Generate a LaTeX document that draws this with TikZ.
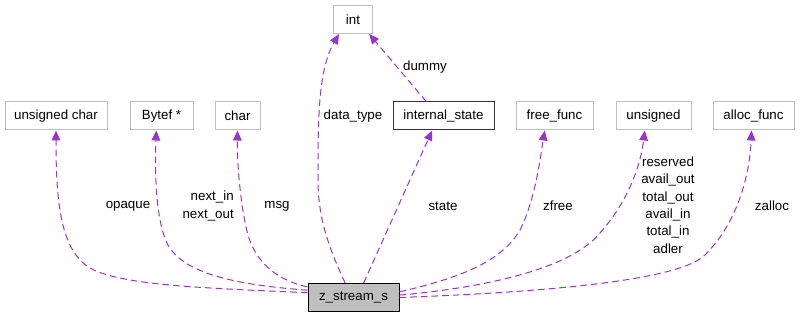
\documentclass[tikz,border=0pt]{standalone}
\usepackage{fontspec}
\setmainfont{Liberation Sans}
\usetikzlibrary{arrows.meta}

\definecolor{edgepurple}{HTML}{9A32CD}
\definecolor{boxgray}{HTML}{BFBFBF}

\begin{document}
\begin{tikzpicture}[x=0.75pt, y=-0.75pt,
      every node/.style = {font=\fontsize{10}{13}\selectfont},
      cls/.style = {shape=rectangle, draw=boxgray, line width=0.75pt,
        fill=white, minimum height=21pt, inner xsep=2pt},
      lbl/.style = {inner sep=0pt, align=center},
      mem/.style = {draw=edgepurple, dash pattern=on 5pt off 3pt,
        line width=0.75pt,
        -{Triangle[length=7.5pt,width=6.5pt,fill=edgepurple]}}]
      \useasboundingbox (0,0) rectangle (800,317);
      % member types
      \node[cls, minimum width=29.25pt] (int) at (353,19.5) {int};
      \node[cls, minimum width=76.5pt] (uchar) at (56,116) {unsigned char};
      \node[cls, minimum width=47.25pt] (bytef) at (161.5,116) {Bytef *};
      \node[cls, minimum width=33.75pt] (char) at (237.5,116) {char};
      \node[cls, minimum width=75.75pt, draw=black!80] (istate) at (443.5,116) {internal\_state};
      \node[cls, minimum width=57.75pt] (freefn) at (554.5,116) {free\_func};
      \node[cls, minimum width=56.25pt] (uint) at (653.5,116) {unsigned};
      \node[cls, minimum width=60.75pt] (allocfn) at (753.5,116) {alloc\_func};
      % the struct itself
      \node[cls, minimum width=68.25pt, draw=black, fill=boxgray] (zs) at (353.5,297.5) {z\_stream\_s};

      % members
      \draw[mem] (zs.174) .. controls (200,288) and (120,285) .. (90,268)
        .. controls (60,250) and (56,200) .. (uchar.south);
      \draw[mem] (zs.171) .. controls (240,285) and (185,275) .. (168,245)
        .. controls (155,220) and (155,170) .. (bytef.250);
      \draw[mem] (zs.167) .. controls (275,280) and (255,260) .. (248,235)
        .. controls (240,205) and (237,160) .. (char.south);
      \draw[mem] (zs.120) .. controls (330,250) and (318,220) .. (318,180)
        .. controls (318,120) and (318,70) .. (int.226);
      \draw[mem] (istate.140) -- (int.318);
      \draw[mem] (zs.55) -- (istate.232);
      \draw[mem] (zs.7) .. controls (450,280) and (500,265) .. (520,230)
        .. controls (535,200) and (540,160) .. (freefn.236);
      \draw[mem] (zs.3) .. controls (480,288) and (570,270) .. (600,233)
        .. controls (625,205) and (640,170) .. (uint.239);
      \draw[mem] (zs.east) .. controls (550,292) and (680,280) .. (705,255)
        .. controls (740,220) and (750,170) .. (allocfn.262);

      % member names
      \node[lbl] (nopaque) at (128,206) {opaque};
      \node[lbl, align=right, anchor=east] (nbytef) at (234,206) {next\_in\\next\_out};
      \node[lbl] (nmsg) at (277,206) {msg};
      \node[lbl] (ntype) at (353,116) {data\_type};
      \node[lbl] (ndummy) at (425,67) {dummy};
      \node[lbl] (nstate) at (443,206) {state};
      \node[lbl] (nzfree) at (558,206) {zfree};
      \node[lbl] (nuint) at (668,205) {reserved\\avail\_out\\total\_out\\avail\_in\\total\_in\\adler};
      \node[lbl] (nzalloc) at (772,206) {zalloc};
\end{tikzpicture}
\end{document}
